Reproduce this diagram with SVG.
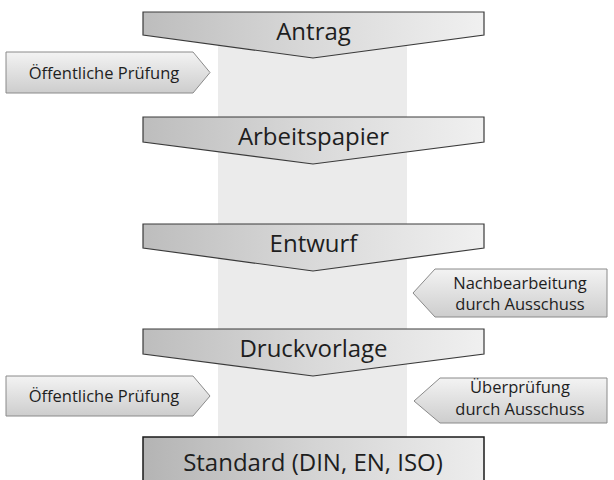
<svg xmlns="http://www.w3.org/2000/svg" width="614" height="480" viewBox="0 0 614 480">
<defs>
<linearGradient id="gStage" x1="0" y1="0" x2="1" y2="0">
<stop offset="0" stop-color="#bdbdbd"/>
<stop offset="0.5" stop-color="#d9d9d9"/>
<stop offset="1" stop-color="#f0f0f0"/>
</linearGradient>
<linearGradient id="gBox" x1="0" y1="0" x2="1" y2="0">
<stop offset="0" stop-color="#b4b4b4"/>
<stop offset="0.5" stop-color="#d4d4d4"/>
<stop offset="1" stop-color="#ededed"/>
</linearGradient>
<linearGradient id="gSide" x1="0" y1="0" x2="0" y2="1">
<stop offset="0" stop-color="#f3f3f3"/>
<stop offset="1" stop-color="#cdcdcd"/>
</linearGradient>
<style>
.stage{fill:url(#gStage);stroke:#3a3a3a;stroke-width:1.2;stroke-linejoin:miter}
.side{fill:url(#gSide);stroke:#8a8a8a;stroke-width:1}
.big{font-family:"Open Sans","Liberation Sans",sans-serif;font-size:24px;fill:#1e1e1e;text-anchor:middle}
.small{font-family:"Open Sans","Liberation Sans",sans-serif;font-size:16.5px;fill:#1e1e1e;text-anchor:middle}
</style>
</defs>
<rect x="218" y="12" width="189" height="425" fill="#ebebeb"/>
<g id="connectors"></g>
<g id="antrag">
<polygon class="stage" points="143,12 484,12 484,35 313,58 143,35"/>
<text class="big" x="313.5" y="40">Antrag</text>
</g>
<g id="pruefung1">
<polygon class="side" points="6,52 193,52 210,72.5 193,93 6,93"/>
<text class="small" x="104" y="79">Öffentliche Prüfung</text>
</g>
<g id="arbeitspapier">
<polygon class="stage" points="143,117 484,117 484,142 313,164 143,142"/>
<text class="big" x="313.5" y="145">Arbeitspapier</text>
</g>
<g id="entwurf">
<polygon class="stage" points="143,224 484,224 484,248 313,271 143,248"/>
<text class="big" x="313.5" y="252">Entwurf</text>
</g>
<g id="nachbearbeitung">
<polygon class="side" points="607,269 435,269 413,293 435,317 607,317"/>
<text class="small" x="520" y="289">Nachbearbeitung</text>
<text class="small" x="520" y="310">durch Ausschuss</text>
</g>
<g id="druckvorlage">
<polygon class="stage" points="143,329 484,329 484,354 313,376 143,354"/>
<text class="big" x="313.5" y="357">Druckvorlage</text>
</g>
<g id="pruefung2">
<polygon class="side" points="6,376 193,376 210,396 193,416 6,416"/>
<text class="small" x="104" y="402">Öffentliche Prüfung</text>
</g>
<g id="ueberpruefung">
<polygon class="side" points="607,378 440,378 414,401 440,423 607,423"/>
<text class="small" x="520" y="393">Überprüfung</text>
<text class="small" x="520" y="415">durch Ausschuss</text>
</g>
<g id="standard">
<rect x="143" y="437" width="341" height="50" fill="url(#gBox)" stroke="#1a1a1a" stroke-width="1.5"/>
<text class="big" x="313" y="471">Standard (DIN, EN, ISO)</text>
</g>
</svg>
